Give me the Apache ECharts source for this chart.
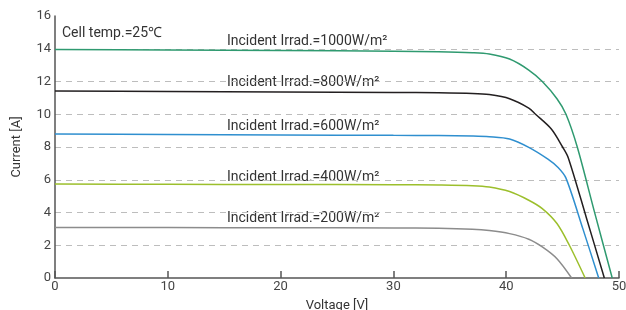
<!DOCTYPE html>
<html>
<head>
<meta charset="utf-8">
<script src="https://cdn.jsdelivr.net/npm/echarts@6/dist/echarts.min.js"></script>
<style>
html,body{margin:0;padding:0;background:#fff;}
#chart{width:626px;height:310px;}
</style>
</head>
<body>
<div id="chart"></div>
<script>
// I-V curves at 25 C, one voltage/current list per irradiance
var v1000 = [0, 10, 20, 30, 34, 37, 38.5, 40.3, 42.0, 43.2, 44.5, 45.3, 46.3, 47.8, 49.4];
var i1000 = [13.95, 13.92, 13.89, 13.85, 13.82, 13.76, 13.68, 13.37, 12.7, 12.0, 10.95, 10.0, 8.0, 4.1, 0];

var v800 = [0, 10, 20, 30, 34, 37, 38.5, 40.3, 42.0, 42.6, 44.0, 45.0, 45.5, 47.1, 48.7];
var i800 = [11.42, 11.39, 11.36, 11.33, 11.31, 11.27, 11.2, 10.95, 10.38, 10.0, 9.1, 8.0, 7.35, 3.7, 0];

var v600 = [0, 10, 20, 30, 34, 37, 38.5, 40.3, 42.0, 43.7, 44.6, 45.3, 46.8, 48.2];
var i600 = [8.8, 8.77, 8.74, 8.71, 8.7, 8.67, 8.63, 8.49, 7.98, 7.26, 6.75, 6.1, 3.0, 0];

var v400 = [0, 10, 20, 30, 34, 37, 38.5, 40.3, 42.0, 43.2, 44.5, 45.6, 47.0];
var i400 = [5.74, 5.72, 5.71, 5.70, 5.68, 5.64, 5.56, 5.28, 4.75, 4.24, 3.33, 2.0, 0];

var v200 = [0, 10, 20, 30, 34, 37, 38.5, 40.3, 42.0, 43.2, 44.5, 45.8];
var i200 = [3.08, 3.08, 3.07, 3.06, 3.04, 2.98, 2.9, 2.71, 2.37, 1.9, 1.18, 0];

var curveNames = ['Incident Irrad.=1000W/m²', 'Incident Irrad.=800W/m²', 'Incident Irrad.=600W/m²',
                  'Incident Irrad.=400W/m²', 'Incident Irrad.=200W/m²'];
var curveColors = ['#2f9a70', '#231f20', '#2f8fcf', '#9cbf2c', '#8c8c8c'];
var labelTops = [43, 84, 128, 179, 220];

function pairs(xs, ys) {
    var out = [];
    for (var i = 0; i < xs.length; i++) {
        out.push([xs[i], ys[i]]);
    }
    return out;
}

var curves = [pairs(v1000, i1000), pairs(v800, i800), pairs(v600, i600), pairs(v400, i400), pairs(v200, i200)];

var chart = echarts.init(document.getElementById('chart'));
var FONT = 'Roboto';

var series = [];
var texts = [];
for (var k = 0; k < curves.length; k++) {
    series.push({
        name: curveNames[k],
        type: 'line',
        data: curves[k],
        smooth: 0.3,
        symbol: 'none',
        lineStyle: {color: curveColors[k], width: 1.5}
    });
    texts.push({
        type: 'text',
        left: 227,
        top: labelTops[k] - 9,
        style: {text: curveNames[k], fill: '#333', font: '14px ' + FONT}
    });
}
texts.push({
    type: 'text',
    left: 62,
    top: 26,
    style: {text: 'Cell temp.=25℃', fill: '#333', font: '14px ' + FONT}
});

chart.setOption({
    animation: false,
    grid: {left: 55, right: 7, top: 16, bottom: 32, outerBoundsMode: 'none', containLabel: false},
    xAxis: {
        type: 'value',
        min: 0, max: 50, interval: 10,
        name: 'Voltage [V]',
        nameLocation: 'middle',
        nameGap: 21,
        nameTextStyle: {color: '#333', fontSize: 13, fontFamily: FONT},
        axisLine: {lineStyle: {color: '#555', width: 1.5}},
        axisTick: {show: true, inside: true, length: 7, lineStyle: {color: '#555', width: 1.5}},
        axisLabel: {color: '#444', fontSize: 13, fontFamily: FONT, margin: 2},
        splitLine: {show: false}
    },
    yAxis: {
        type: 'value',
        min: 0, max: 16, interval: 2,
        name: 'Current [A]',
        nameLocation: 'middle',
        nameGap: 32,
        nameTextStyle: {color: '#333', fontSize: 13, fontFamily: FONT},
        axisLine: {show: true, lineStyle: {color: '#555', width: 1.5}},
        axisTick: {show: false},
        axisLabel: {color: '#444', fontSize: 13, fontFamily: FONT, margin: 4},
        splitLine: {show: true, showMaxLine: false, showMinLine: false,
                    lineStyle: {color: '#bdbdbd', type: [6, 5], width: 1}}
    },
    graphic: texts,
    series: series
});
</script>
</body>
</html>
